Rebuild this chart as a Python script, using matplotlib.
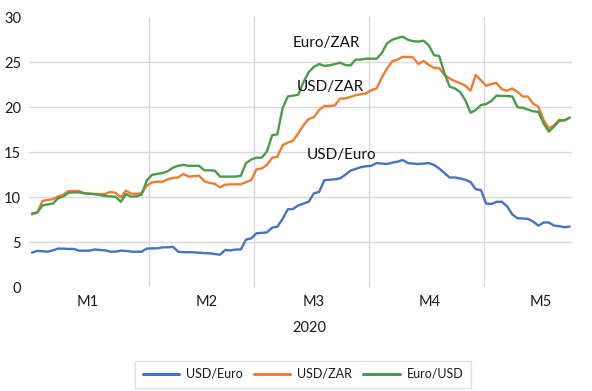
import matplotlib
matplotlib.use("Agg")
import matplotlib.pyplot as plt
import numpy as np

plt.rcParams['font.family'] = ['Lato', 'DejaVu Sans']

# ---------------- data ----------------
months = ["M1", "M2", "M3", "M4", "M5"]
month_days = [23, 20, 22, 22, 17]
year_label = "2020"

usd_euro = [3.85, 4.05, 4.0, 3.96, 4.1, 4.3, 4.3, 4.26, 4.26, 4.07,
            4.07, 4.07, 4.2, 4.15, 4.1, 3.96, 3.96, 4.07, 4.05, 3.96,
            3.96, 3.96, 4.3, 4.33, 4.33, 4.44, 4.44, 4.5, 3.96, 3.9,
            3.9, 3.88, 3.85, 3.8, 3.78, 3.7, 3.62, 4.15, 4.1, 4.2,
            4.2, 5.3, 5.44, 6.0, 6.05, 6.1, 6.63, 6.74, 7.6, 8.67,
            8.7, 9.1, 9.3, 9.5, 10.44, 10.6, 11.9, 11.95, 12.0, 12.1,
            12.5, 12.96, 13.15, 13.35, 13.45, 13.5, 13.8, 13.75, 13.7, 13.85,
            13.95, 14.15, 13.8, 13.75, 13.7, 13.75, 13.8, 13.6, 13.2, 12.7,
            12.2, 12.2, 12.1, 11.95, 11.7, 10.9, 10.8, 9.3, 9.26, 9.5,
            9.5, 9.0, 8.1, 7.67, 7.65, 7.6, 7.3, 6.85, 7.2, 7.2,
            6.85, 6.8, 6.67, 6.74]

usd_zar = [8.1, 8.3, 9.6, 9.7, 9.8, 10.1, 10.3, 10.7, 10.7, 10.7,
           10.45, 10.4, 10.37, 10.37, 10.37, 10.6, 10.5, 10.0, 10.74, 10.4,
           10.4, 10.45, 11.3, 11.65, 11.74, 11.74, 12.0, 12.15, 12.2, 12.6,
           12.3, 12.35, 12.4, 11.8, 11.6, 11.5, 11.1, 11.4, 11.44, 11.44,
           11.44, 11.7, 11.9, 13.1, 13.2, 13.6, 14.4, 14.5, 15.8, 16.07,
           16.3, 17.1, 18.0, 18.7, 18.9, 19.7, 20.15, 20.15, 20.2, 20.96,
           21.0, 21.15, 21.35, 21.45, 21.55, 21.9, 22.1, 23.3, 24.3, 25.1,
           25.3, 25.6, 25.6, 25.55, 24.8, 25.15, 24.7, 24.4, 24.35, 23.6,
           23.2, 22.9, 22.7, 22.4, 21.85, 23.6, 23.0, 22.4, 22.6, 22.7,
           22.0, 21.85, 22.1, 21.7, 21.2, 21.2, 20.4, 20.07, 18.6, 17.67,
           18.0, 18.6, 18.55, 18.85]

euro_usd = [8.2, 8.3, 9.1, 9.2, 9.3, 9.9, 10.1, 10.5, 10.55, 10.55,
            10.45, 10.4, 10.35, 10.25, 10.15, 10.1, 10.07, 9.5, 10.35, 10.07,
            10.1, 10.3, 11.9, 12.5, 12.6, 12.7, 12.9, 13.3, 13.5, 13.6,
            13.5, 13.5, 13.5, 13.0, 13.0, 12.96, 12.3, 12.3, 12.3, 12.3,
            12.4, 13.8, 14.2, 14.4, 14.4, 15.1, 16.9, 17.0, 19.9, 21.2,
            21.3, 21.4, 22.8, 23.9, 24.5, 24.8, 24.6, 24.67, 24.8, 24.96,
            24.7, 24.65, 25.3, 25.3, 25.4, 25.4, 25.4, 26.0, 27.1, 27.5,
            27.7, 27.85, 27.5, 27.35, 27.3, 27.4, 26.9, 25.8, 25.7, 23.8,
            22.3, 22.1, 21.7, 20.8, 19.4, 19.7, 20.25, 20.37, 20.7, 21.3,
            21.26, 21.26, 21.2, 20.0, 19.95, 19.75, 19.55, 19.5, 18.2, 17.3,
            17.85, 18.5, 18.55, 18.85]

series_names = ["USD/Euro", "USD/ZAR", "Euro/USD"]
annotations = ["USD/Euro", "USD/ZAR", "Euro/ZAR"]
y_ticks = [0, 5, 10, 15, 20, 25, 30]

# ---------------- style ----------------
colors = ["#4472C4", "#ED7D31", "#4A9B4C"]
W, H = 592, 391
fig = plt.figure(figsize=(W / 100, H / 100), dpi=100)

left_px, right_px = 29.4, 572.3
top_px, bot_px = 17.3, 287.3
ax = fig.add_axes([left_px / W, 1 - bot_px / H,
                   (right_px - left_px) / W, (bot_px - top_px) / H])

n = len(usd_euro)
x = np.arange(n)
for vals, c, name in zip([usd_euro, usd_zar, euro_usd], colors, series_names):
    ax.plot(x, vals, color=c, lw=1.7, label=name, solid_joinstyle='round',
            solid_capstyle='round')

ax.set_xlim(-0.5, n - 0.5)
ax.set_ylim(0, 30)

grid_c = "#D9D9D9"
for yv in y_ticks[1:-1]:
    ax.axhline(yv, color=grid_c, lw=1.0, zorder=0)
bounds = np.cumsum(month_days)[:-1] - 0.5
for b in bounds:
    ax.axvline(b, color=grid_c, lw=1.0, zorder=0)

for s in ax.spines.values():
    s.set_visible(False)
ax.set_yticks(y_ticks)
ax.set_yticklabels([str(t) for t in y_ticks], fontsize=10.5, color="#1a1a1a")
ax.tick_params(axis='y', length=0, pad=6)
ax.set_xticks([])

# month labels (positions measured in category units)
label_pos = [10.7, 33.5, 54.0, 76.2, 97.5]
for m, p in zip(months, label_pos):
    ax.text(p, -1.6, m, ha='center', va='center', fontsize=10.5,
            color="#1a1a1a", transform=ax.transData, clip_on=False)
ax.text(53.2, -4.5, year_label, ha='center', va='center', fontsize=10.5,
        color="#1a1a1a", clip_on=False)

# in-plot annotations
ann_pos = [(52.7, 14.7), (50.8, 22.3), (50.0, 27.2)]
for t, (px, py) in zip(annotations, ann_pos):
    ax.text(px, py, t, ha='left', va='center', fontsize=11, color="#111111")

leg = fig.legend(loc='center', bbox_to_anchor=(303 / W, 1 - 374 / H), ncol=3,
                 frameon=True, fontsize=9, handlelength=2.9, columnspacing=0.9,
                 handletextpad=0.55, borderpad=0.6, fancybox=False)
leg.get_frame().set_edgecolor(grid_c)
leg.get_frame().set_linewidth(1.0)
for line in leg.get_lines():
    line.set_linewidth(2.2)
for t in leg.get_texts():
    t.set_color("#1a1a1a")

fig.savefig("out.png", dpi=100)
